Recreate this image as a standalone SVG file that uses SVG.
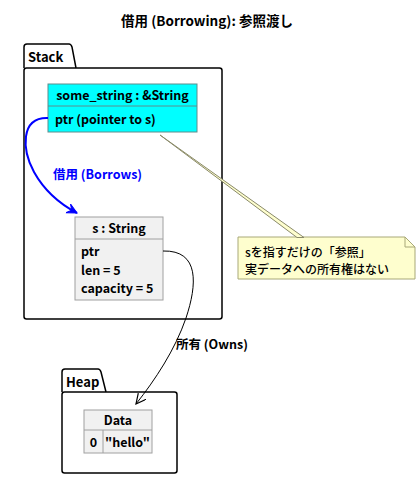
<svg xmlns="http://www.w3.org/2000/svg" width="419" height="477" viewBox="0 0 419 477">
<style>
text{font-family:"Noto Sans CJK JP","Noto Sans",sans-serif;fill:#000}
.t{font-size:13.5px;font-weight:bold}
.pk{font-size:13px;font-weight:bold}
.c{font-size:12.5px;font-weight:bold}
.n{font-size:12px;font-weight:500}
.pkg{fill:#fff;stroke:#000;stroke-width:1.5}
</style>
<defs>
<marker id="ab" markerWidth="12" markerHeight="12" refX="10" refY="5" orient="auto" markerUnits="userSpaceOnUse">
<path d="M0,0 L10,5 L0,10 L4,5 Z" fill="#0000FF" stroke="#0000FF"/>
</marker>
<marker id="ao" markerWidth="12" markerHeight="12" refX="10" refY="5" orient="auto" markerUnits="userSpaceOnUse">
<path d="M0,0 L10,5 L0,10" fill="none" stroke="#000" stroke-width="1.2"/>
</marker>
</defs>
<rect width="419" height="477" fill="#fff"/>
<text class="t" x="207" y="26" text-anchor="middle">借用 (Borrowing): 参照渡し</text>

<g id="Stack">
<path class="pkg" d="M24,68 L24,47 Q24,44 27,44 L69,44 Q71,44 72,47 L76,68"/>
<rect class="pkg" x="24" y="68" width="198" height="251" rx="2.5"/>
<text class="pk" x="28" y="62">Stack</text>
</g>

<g id="some_string">
<rect x="48" y="84" width="149" height="48" fill="#00FFFF" stroke="#5F8C8C" stroke-width="1"/>
<line x1="48" y1="106" x2="197" y2="106" stroke="#5F8C8C"/>
<text class="c" x="122.5" y="100" text-anchor="middle">some_string : &amp;String</text>
<text class="c" x="55" y="124">ptr (pointer to s)</text>
</g>

<g id="s">
<rect x="75" y="217" width="88" height="83" fill="#F1F1F1" stroke="#A0A0A0" stroke-width="1"/>
<line x1="75" y1="239" x2="163" y2="239" stroke="#A0A0A0"/>
<text class="c" x="119" y="233" text-anchor="middle">s : String</text>
<text class="c" x="81" y="256">ptr</text>
<text class="c" x="81" y="274.5">len = 5</text>
<text class="c" x="81" y="293">capacity = 5</text>
</g>

<g id="Heap">
<path class="pkg" d="M62,392 L62,372 Q62,369 65,369 L98,369 Q100,369 101,372 L106,392"/>
<rect class="pkg" x="62" y="392" width="115" height="81" rx="2.5"/>
<text class="pk" x="66" y="387">Heap</text>
</g>

<g id="Data">
<rect x="84" y="410" width="68" height="43" fill="#F1F1F1" stroke="#A0A0A0" stroke-width="1"/>
<line x1="84" y1="430" x2="152" y2="430" stroke="#A0A0A0"/>
<line x1="103" y1="430" x2="103" y2="453" stroke="#A0A0A0"/>
<text class="c" x="118" y="425" text-anchor="middle">Data</text>
<text class="c" x="93.5" y="447" text-anchor="middle">0</text>
<text class="c" x="127.5" y="447" text-anchor="middle">"hello"</text>
</g>

<g id="note">
<path d="M238,237 L405,237 L415,247 L415,279 L238,279 Z" fill="#FEFECE" stroke="#A8A878" stroke-width="1"/>
<path d="M405,237 L405,247 L415,247" fill="none" stroke="#A8A878" stroke-width="1"/>
<text class="n" x="245" y="256.5">sを指すだけの「参照」</text>
<text class="n" x="245" y="273.5">実データへの所有権はない</text>
</g>

<g id="connectors">
<path d="M160,135 L297,237.5 L304,237.5 Z" fill="#FEFECE" stroke="#8A8A6A" stroke-width="1"/>
<path d="M48,118 C20,117 22,150 34,172 C44,190 58,203 77,213" fill="none" stroke="#0000FF" stroke-width="2" marker-end="url(#ab)"/>
<text class="c" x="53" y="179" style="fill:#0000FF">借用 (Borrows)</text>
<path d="M163,251 C200,250 197,285 186,318 C175,350 155,380 136,404" fill="none" stroke="#000" stroke-width="1" marker-end="url(#ao)"/>
<text class="c" x="176" y="349">所有 (Owns)</text>
</g>
</svg>
